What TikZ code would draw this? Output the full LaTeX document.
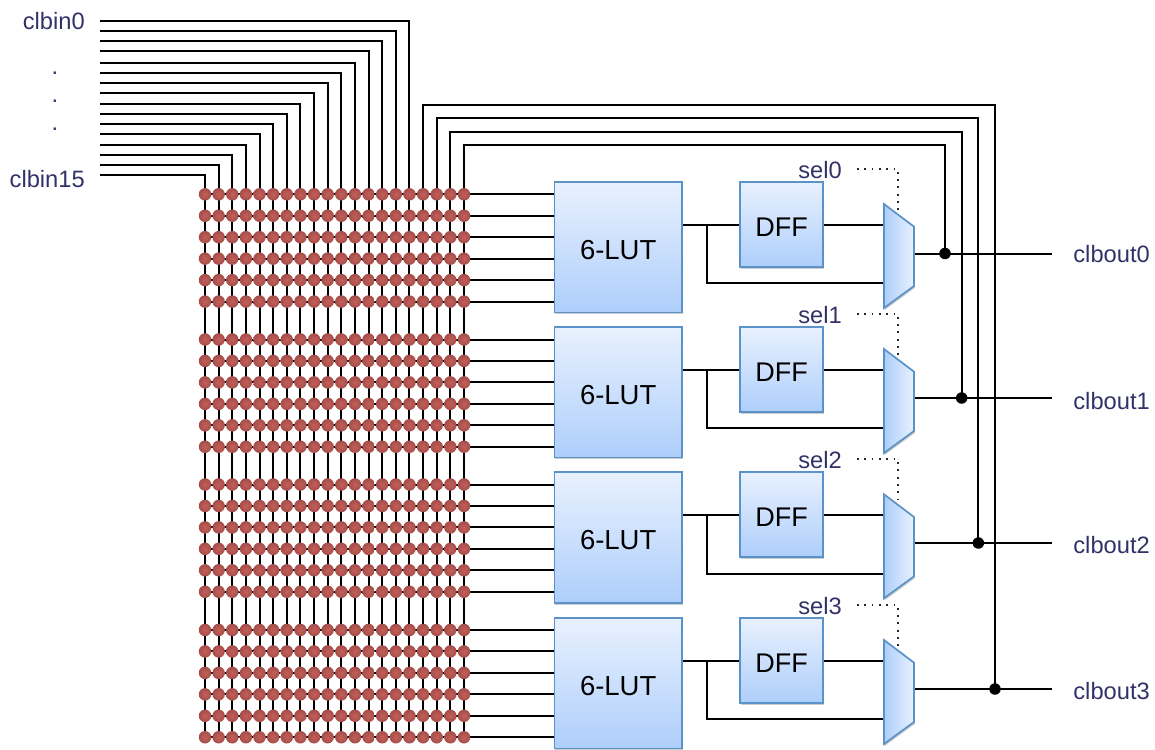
\documentclass[tikz,border=0pt]{standalone}
\usepackage{fontspec}
\setmainfont{Liberation Sans}
\usepackage{xcolor}
\usetikzlibrary{positioning,backgrounds,shadows}
\definecolor{clbnavy}{RGB}{50,50,105}
\definecolor{clbedge}{RGB}{91,147,200}
\definecolor{clblight}{RGB}{232,241,254}
\definecolor{clbmid}{RGB}{174,206,251}
\definecolor{clbdot}{RGB}{165,78,74}
\definecolor{clbdotin}{RGB}{195,95,90}

\begin{document}
\begin{tikzpicture}[
    x=1pt, y=-1pt,
    wire/.style={line width=2pt, black},
    seldots/.style={line width=1.8pt, black!85, dash pattern=on 1.8pt off 5.5pt},
    xpoint/.style={circle, inner sep=0pt, minimum size=12.5pt,
                   inner color=clbdotin, outer color=clbdot},
    tap/.style={circle, fill=black, inner sep=0pt, minimum size=11.5pt},
    blockshade/.style={draw=clbedge, line width=1.7pt, top color=clblight,
                       bottom color=clbmid,
                       drop shadow={shadow xshift=0.8pt, shadow yshift=-2pt, opacity=0.4}},
    lutbox/.style={blockshade, minimum width=127.5pt, minimum height=130.5pt,
                   inner sep=0pt, font=\fontsize{27.5}{30}\selectfont},
    dffbox/.style={blockshade, minimum width=83pt, minimum height=85pt,
                   inner sep=0pt, font=\fontsize{27}{30}\selectfont},
    muxbox/.style={draw=clbedge, line width=1.7pt,
                   left color=clbmid, right color=clblight,
                   drop shadow={shadow xshift=0.8pt, shadow yshift=-2pt, opacity=0.4}},
    sigtext/.style={text=clbnavy, inner sep=0pt, font=\fontsize{23.7}{26}\selectfont},
  ]
  \path[use as bounding box] (0,0) rectangle (1155,749);

  % --- Crossbar points ---
  \foreach \g/\gy in {0/194.3, 1/339.5, 2/484.5, 3/630} {
    \foreach \r in {0,...,5} {
      \foreach \c in {0,...,19} {
        \node[xpoint] (n\g\r-\c) at (205+13.63*\c, \gy+21.45*\r) {};
      }
    }
  }

  % --- LUT, DFF and mux per slice ---
  \foreach \g/\ly/\oy/\ty in {0/182/253.5/254, 1/327/398/401, 2/472.3/543/545, 3/618/689/691} {
    \node[lutbox] (lut\g) at (618.2, \ly+65.2) {\rule{0pt}{25pt}6-LUT};
    \node[dffbox] (dff\g) at (781.5, \ly+42.5) {\rule{0pt}{23.5pt}DFF};
    \draw[muxbox] (884, \ly+22) -- (914, \ly+44.7) -- (914, \ly+104) -- (884, \ly+126) -- cycle;
    \node[tap] (tap\g) at (945+16.67*\g, \oy) {};
    \node[sigtext, anchor=east] (out\g) at (1150, \ty) {clbout\g};
    \node[sigtext] (sel\g) at (820, \ly-12) {sel\g};
    \coordinate (selstart\g) at (857, \ly-13);
    \coordinate (selturn\g) at (898, \ly-13);
    \coordinate (selend\g) at (898, \ly+33);
    \coordinate (outend\g) at (1052, \oy);
    \coordinate (muxout\g) at (914, \oy);
    \coordinate (branch\g) at (707, \ly+42.5);
    \coordinate (muxlow\g) at (884, \ly+101.3);
    \coordinate (muxhigh\g) at (884, \ly+42.5);
    \coordinate (lutout\g) at (680, \ly+42.5);
  }

  % --- Input labels ---
  \node[sigtext, anchor=east] (clbin0) at (85, 21) {clbin0};
  \node[sigtext, anchor=east] (clbin15) at (85, 179) {clbin15};
  \foreach \k/\ky in {0/73, 1/101, 2/129} {
    \node[sigtext] (gap\k) at (55, \ky) {.};
  }

  \begin{scope}[on background layer]
    % --- Input bus into the crossbar ---
    \foreach \i/\iy in {0/21.3, 1/31.3, 2/41.3, 3/51.3, 4/62.7, 5/72.7, 6/82.7, 7/92.7,
                        8/104, 9/114, 10/124, 11/134, 12/145.3, 13/155.3, 14/165.3, 15/175.3} {
      \pgfmathtruncatemacro{\col}{15-\i}
      \coordinate (in\i) at (100, \iy);
      \draw[wire] (in\i) -| (n00-\col.center);
    }
    % --- Crossbar lines ---
    \foreach \c in {0,...,19} {
      \draw[wire] (n00-\c.center) -- (n35-\c.center);
    }
    \foreach \g in {0,...,3} {
      \foreach \r in {0,...,5} {
        \draw[wire] (n\g\r-0.center) -- (n\g\r-19.center -| lut\g.west);
      }
    }
    % --- Feedback from outputs ---
    \foreach \g/\c/\fy in {3/16/104.7, 2/17/118, 1/18/132, 0/19/145.3} {
      \coordinate (fbtop\g) at (tap\g |- 0,\fy);
      \draw[wire] (tap\g.center) -- (fbtop\g) -| (n00-\c.center);
    }
    % --- Slice wiring ---
    \foreach \g in {0,...,3} {
      \draw[wire] (lutout\g) -- (dff\g.west);
      \draw[wire] (dff\g.east) -- (muxhigh\g);
      \draw[wire] (branch\g) |- (muxlow\g);
      \draw[wire] (muxout\g) -- (outend\g);
      \draw[seldots] (selstart\g) -- (selturn\g) -- (selend\g);
    }
  \end{scope}
\end{tikzpicture}
\end{document}
